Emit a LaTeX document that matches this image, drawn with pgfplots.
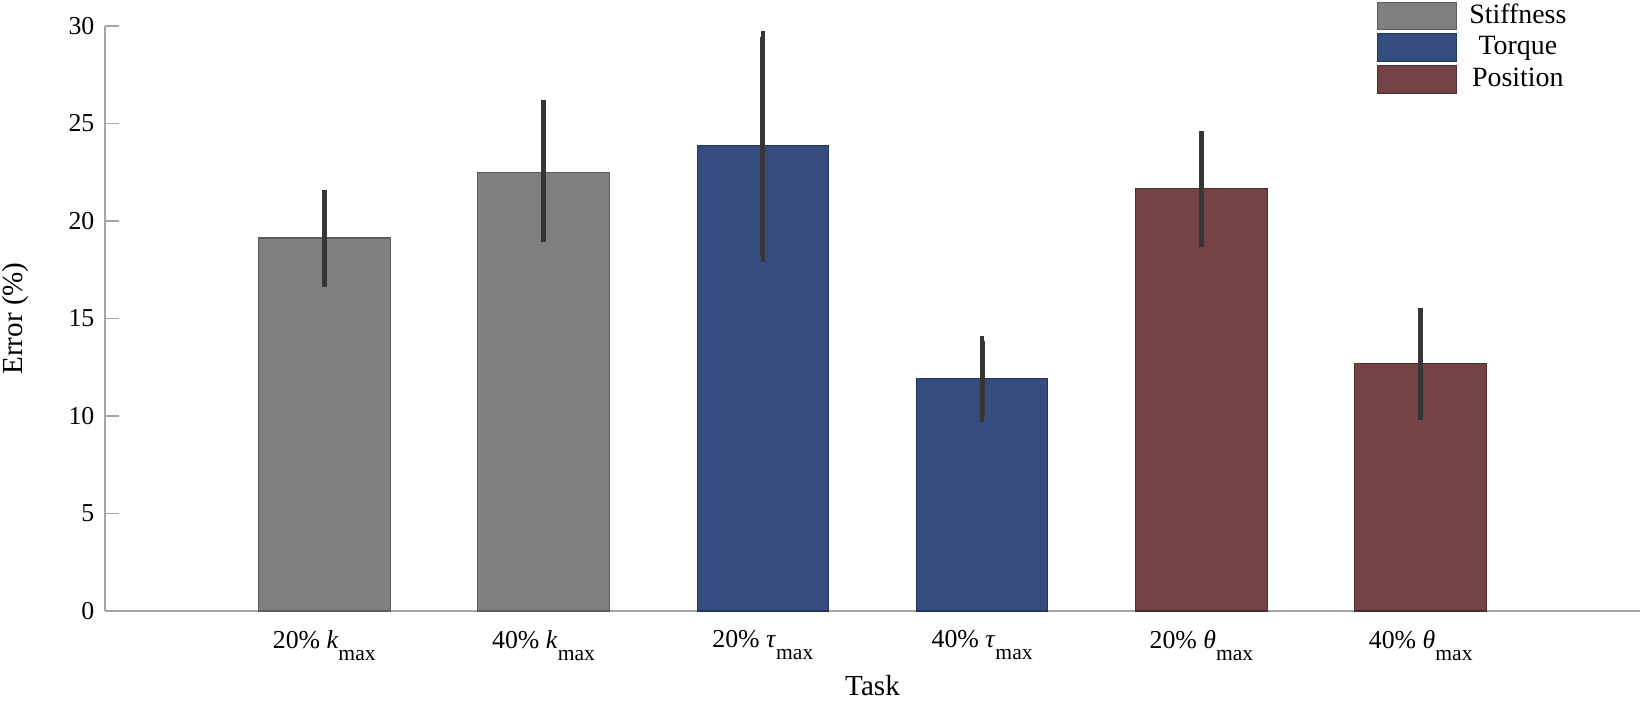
\documentclass[border=0pt]{standalone}
\usepackage{fontspec}
\setmainfont{Liberation Serif}
\usepackage{pgfplots}
\pgfplotsset{compat=1.18}

\definecolor{stiffgray}{HTML}{808080}
\definecolor{stiffedge}{HTML}{5C5C5C}
\definecolor{torqueblue}{HTML}{354C7E}
\definecolor{torqueedge}{HTML}{24355C}
\definecolor{posred}{HTML}{734345}
\definecolor{posedge}{HTML}{4E2C2E}
\definecolor{errgray}{HTML}{363636}
\definecolor{axgray}{HTML}{A6A6A6}

% subscript "max" as set in the figure
\newcommand{\smax}{\raisebox{-4.2pt}{\fontsize{7.2}{8}\selectfont max}}

\begin{document}
\begin{tikzpicture}
\begin{axis}[
    width=511.67pt, height=195pt, scale only axis,
    xmin=0, xmax=7, ymin=0, ymax=30,
    axis x line*=bottom, axis y line*=left,
    axis line style={axgray, line width=0.6pt},
    xtick={1,2,3,4,5,6},
    xticklabels={
        {20\% \textit{k}\smax},
        {40\% \textit{k}\smax},
        {20\% \textit{τ}\smax},
        {40\% \textit{τ}\smax},
        {20\% \textit{θ}\smax},
        {40\% \textit{θ}\smax}},
    x tick style={draw=none},
    ytick={0,5,...,30},
    y tick style={axgray, line width=0.5pt},
    tick align=inside, major tick length=4.67pt,
    tick label style={font=\fontsize{8.6}{10}\selectfont},
    xticklabel style={yshift=1.8pt},
    /pgf/number format/assume math mode=true,
    xlabel={Task}, ylabel={Error (\%)},
    label style={font=\fontsize{9.7}{11}\selectfont},
    xlabel style={at={(axis description cs:0.5,-0.128)}, anchor=center},
    ylabel style={at={(axis description cs:-0.058,0.5)}, anchor=center},
    ybar, bar width=0.6, bar shift=0pt,
    error bars/y dir=both, error bars/y explicit,
    error bars/error mark=-,
    error bars/error bar style={errgray, line width=1.67pt},
    error bars/error mark options={errgray, line width=1.5pt, mark size=1.8pt},
    legend style={draw=none, fill=none, inner sep=0pt,
        at={(axis description cs:0.954,1.043)}, anchor=north east,
        font=\fontsize{9.3}{11}\selectfont,
        row sep=1.0pt,
        nodes={inner sep=0.8pt},
        /tikz/every odd column/.style={column sep=3.2pt}},
    legend cell align=center,
    legend image code/.code={\draw[#1, line width=0.35pt] (0pt,-4.6pt) rectangle (26.3pt,4.6pt);},
]
\addplot[fill=stiffgray, draw=stiffedge, line width=0.35pt] coordinates {
    (1,19.13) += (0,2.20) -= (0,2.26)
    (2,22.51) += (0,3.44) -= (0,3.33)
};
\addlegendentry{Stiffness}
\addplot[fill=torqueblue, draw=torqueedge, line width=0.35pt] coordinates {
    (3,23.85) += (0,5.60) -= (0,5.65)
    (4,11.90) += (0,1.95) -= (0,1.93)
};
\addlegendentry{Torque}
\addplot[fill=posred, draw=posedge, line width=0.35pt] coordinates {
    (5,21.67) += (0,2.69) -= (0,2.70)
    (6,12.67) += (0,2.60) -= (0,2.62)
};
\addlegendentry{Position}
\end{axis}
\pgfresetboundingbox
\useasboundingbox ([xshift=-35pt,yshift=-29.67pt]current axis.south west)
    rectangle ([xshift=1.33pt,yshift=8.67pt]current axis.north east);
\end{tikzpicture}
\end{document}
